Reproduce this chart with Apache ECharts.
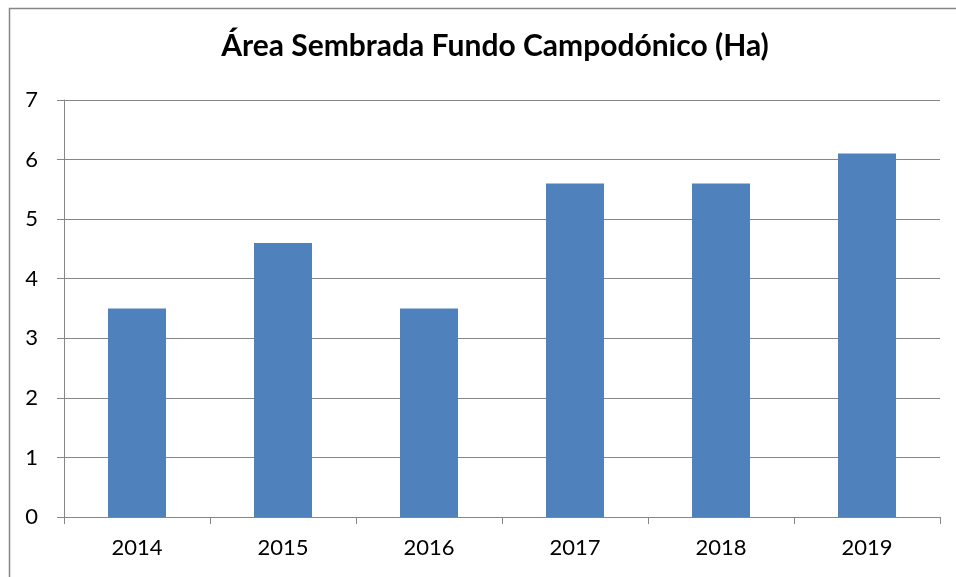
<!DOCTYPE html>
<html>
<head>
<meta charset="utf-8">
<script src="https://cdn.jsdelivr.net/npm/echarts@6/dist/echarts.min.js"></script>
<style>html,body{margin:0;padding:0;background:#fff}#c{width:956px;height:577px}</style>
</head>
<body>
<div id="c"></div>
<script>
const titleText = 'Área Sembrada Fundo Campodónico (Ha)';
const categories = ['2014', '2015', '2016', '2017', '2018', '2019'];
const values = [3.5, 4.6, 3.5, 5.6, 5.6, 6.1];
const yTicks = [0, 1, 2, 3, 4, 5, 6, 7];

const chart = echarts.init(document.getElementById('c'), null, {renderer: 'canvas'});
const font = 'Lato, "Open Sans", sans-serif';
chart.setOption({
  animation: false,
  backgroundColor: '#fff',
  title: {
    text: titleText,
    left: 490, top: 26, textAlign: 'center',
    textStyle: {fontFamily: font, fontSize: 30, fontWeight: 'bold', color: '#000'}
  },
  graphic: [{
    type: 'rect', shape: {x: 9.5, y: 8.5, width: 1000, height: 1000},
    style: {fill: 'none', stroke: '#868686', lineWidth: 1.5}, silent: true, z: -1
  }],
  grid: {left: 64, right: 16, top: 100, bottom: 60},
  xAxis: {
    type: 'category', data: categories,
    axisLine: {lineStyle: {color: '#868686', width: 1}},
    axisTick: {show: true, alignWithLabel: false, length: 7, lineStyle: {color: '#868686'}},
    axisLabel: {fontFamily: font, fontSize: 22, color: '#000', margin: 20}
  },
  yAxis: {
    type: 'value', min: yTicks[0], max: yTicks[yTicks.length - 1], interval: 1,
    axisLine: {show: true, lineStyle: {color: '#868686', width: 1}},
    axisTick: {show: true, length: 7, lineStyle: {color: '#868686'}},
    splitLine: {lineStyle: {color: '#868686', width: 1}},
    axisLabel: {fontFamily: font, fontSize: 22, color: '#000', margin: 26}
  },
  series: [{
    type: 'bar', data: values, barWidth: 58,
    itemStyle: {color: '#4f81bd'}
  }]
});
</script>
</body>
</html>
